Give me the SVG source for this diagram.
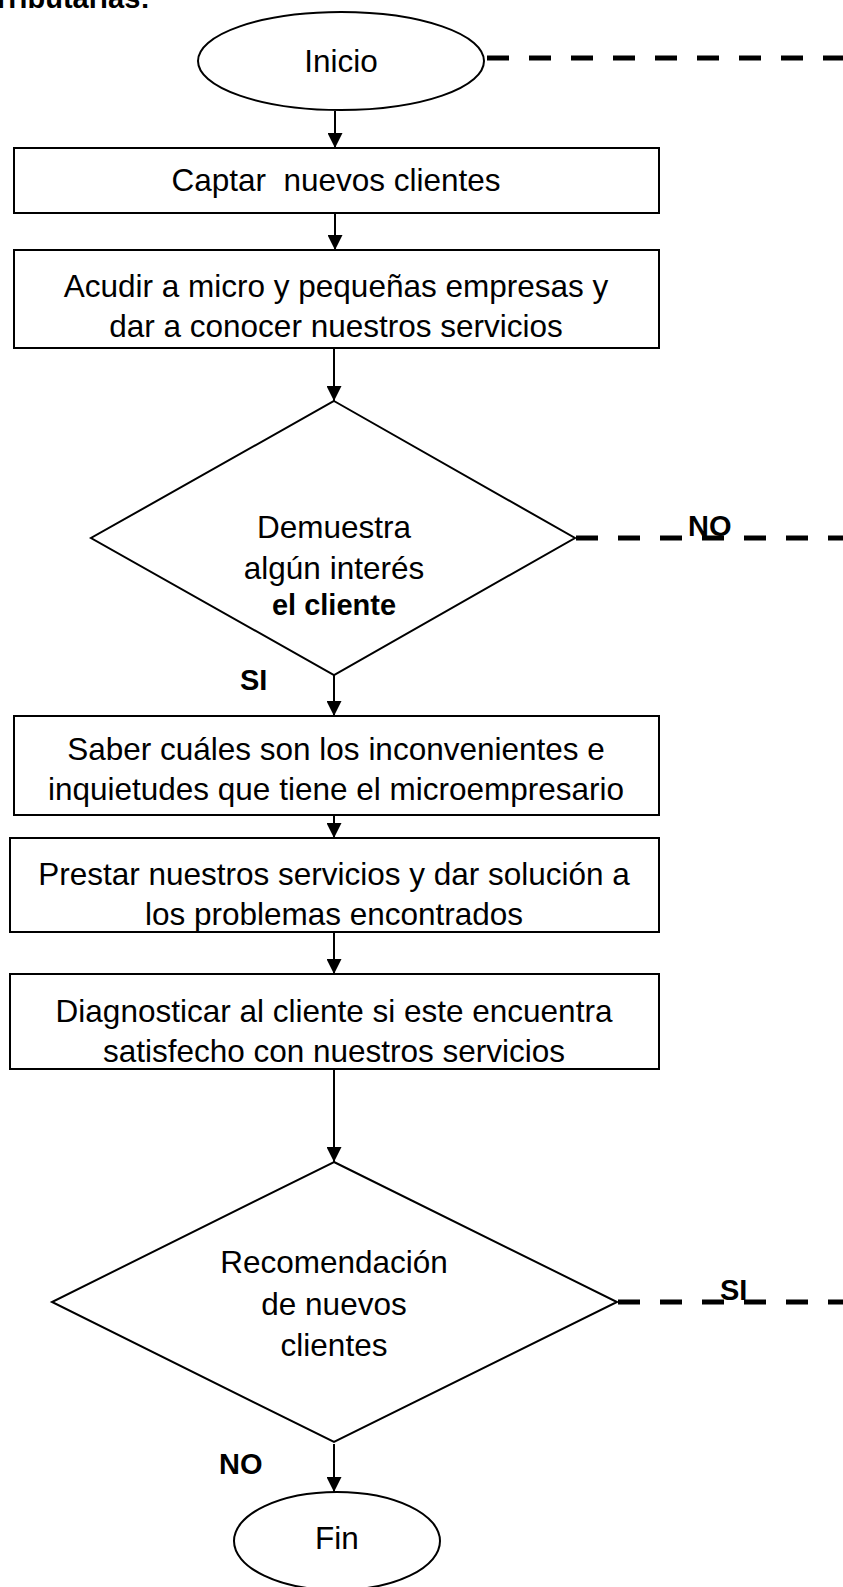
<svg xmlns="http://www.w3.org/2000/svg" width="843" height="1587" viewBox="0 0 843 1587">
<defs>
<style>
.shape{fill:#fff;stroke:#000;stroke-width:2}
.t{font-family:"Liberation Sans",Arial,sans-serif;font-size:31.5px;fill:#000;text-anchor:middle}
.b{font-family:"Liberation Sans",Arial,sans-serif;font-size:29px;font-weight:bold;fill:#000}
.arrow{stroke:#000;stroke-width:2;fill:none;marker-end:url(#ah)}
.dash{stroke:#000;stroke-width:5;fill:none;stroke-dasharray:22 20}
</style>
<marker id="ah" markerUnits="userSpaceOnUse" markerWidth="15" markerHeight="15" refX="15" refY="7.5" orient="auto">
<path d="M0,0 L15,7.5 L0,15 z" fill="#000"/>
</marker>
</defs>
<rect width="843" height="1587" fill="#fff"/>
<text class="b" x="150" y="8" text-anchor="end">Tributarias:</text>

<g id="inicio">
<ellipse class="shape" cx="341" cy="61" rx="143" ry="49"/>
<text class="t" x="341" y="72">Inicio</text>
</g>
<g id="captar">
<rect class="shape" x="14" y="148" width="645" height="65"/>
<text class="t" x="336" y="191" xml:space="preserve">Captar  nuevos clientes</text>
</g>
<g id="acudir">
<rect class="shape" x="14" y="250" width="645" height="98"/>
<text class="t" x="336" y="297">Acudir a micro y pequeñas empresas y</text>
<text class="t" x="336" y="337">dar a conocer nuestros servicios</text>
</g>
<g id="interes">
<polygon class="shape" points="334,401 575,538 334,675 91,538"/>
<text class="t" x="334" y="538">Demuestra</text>
<text class="t" x="334" y="579">algún interés</text>
<text class="t" x="334" y="615" style="font-weight:bold;font-size:29px">el cliente</text>
</g>
<g id="saber">
<rect class="shape" x="14" y="716" width="645" height="99"/>
<text class="t" x="336" y="760">Saber cuáles son los inconvenientes e</text>
<text class="t" x="336" y="800">inquietudes que tiene el microempresario</text>
</g>
<g id="prestar">
<rect class="shape" x="10" y="838" width="649" height="94"/>
<text class="t" x="334" y="885">Prestar nuestros servicios y dar solución a</text>
<text class="t" x="334" y="925">los problemas encontrados</text>
</g>
<g id="diagnosticar">
<rect class="shape" x="10" y="974" width="649" height="95"/>
<text class="t" x="334" y="1022">Diagnosticar al cliente si este encuentra</text>
<text class="t" x="334" y="1062">satisfecho con nuestros servicios</text>
</g>
<g id="recomendacion">
<polygon class="shape" points="334,1162 617,1302 334,1442 52,1302"/>
<text class="t" x="334" y="1273">Recomendación</text>
<text class="t" x="334" y="1315">de nuevos</text>
<text class="t" x="334" y="1356">clientes</text>
</g>
<g id="fin">
<ellipse class="shape" cx="337" cy="1541" rx="103" ry="49"/>
<text class="t" x="337" y="1549">Fin</text>
</g>

<g id="connectors">
<line class="arrow" x1="335" y1="111" x2="335" y2="148"/>
<line class="arrow" x1="335" y1="213" x2="335" y2="250"/>
<line class="arrow" x1="334" y1="348" x2="334" y2="401"/>
<line class="arrow" x1="334" y1="675" x2="334" y2="716"/>
<line class="arrow" x1="334" y1="815" x2="334" y2="838"/>
<line class="arrow" x1="334" y1="932" x2="334" y2="974"/>
<line class="arrow" x1="334" y1="1069" x2="334" y2="1162"/>
<line class="arrow" x1="334" y1="1444" x2="334" y2="1492"/>
<line class="dash" x1="487" y1="58" x2="843" y2="58"/>
<line class="dash" x1="576" y1="538" x2="843" y2="538"/>
<line class="dash" x1="618" y1="1302" x2="843" y2="1302"/>
<text class="b" x="688" y="536">NO</text>
<text class="b" x="240" y="690">SI</text>
<text class="b" x="720" y="1300">SI</text>
<text class="b" x="219" y="1474">NO</text>
</g>
</svg>
